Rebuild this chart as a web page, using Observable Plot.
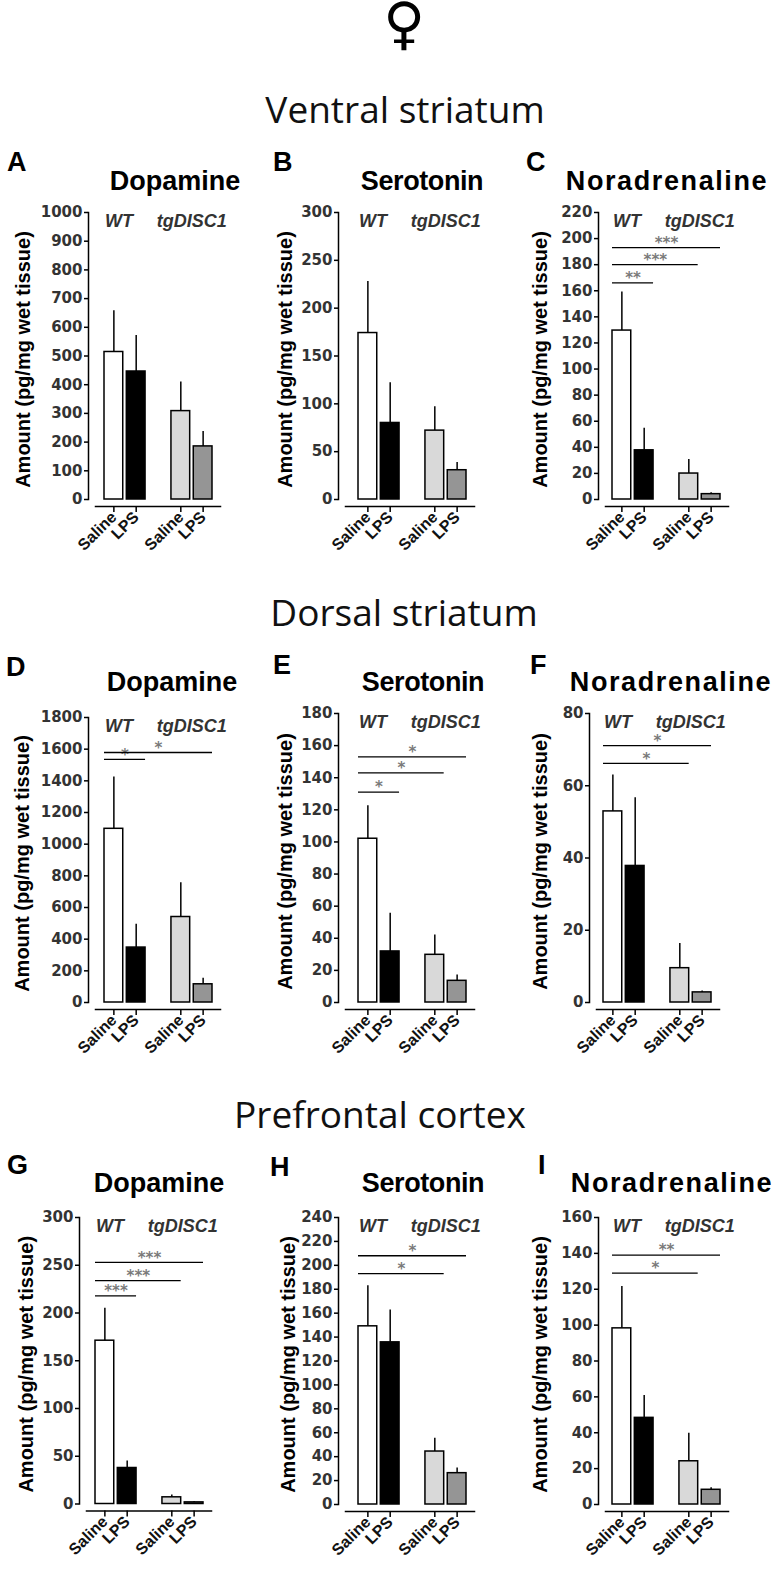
<!DOCTYPE html>
<html>
<head>
<meta charset="utf-8">
<script src="https://cdn.jsdelivr.net/npm/d3@7"></script>
<script src="https://cdn.jsdelivr.net/npm/@observablehq/plot@0.6"></script>
<style>
html, body { margin: 0; padding: 0; background: #fff; }
#page { position: relative; width: 772px; height: 1569px; overflow: hidden; background: #fff; }
.t { position: absolute; white-space: nowrap; margin: 0; }
.panel { position: absolute; }
</style>
</head>
<body>
<div id="page"></div>
<script>
// ---------------- DATA ----------------
const sexSymbol = "♀";
const regions = ["Ventral striatum", "Dorsal striatum", "Prefrontal cortex"];
const transmitters = ["Dopamine", "Serotonin", "Noradrenaline"];
const panelLetters = ["A", "B", "C", "D", "E", "F", "G", "H", "I"];
const genotypes = ["WT", "WT", "tgDISC1", "tgDISC1"];
const treatments = ["Saline", "LPS", "Saline", "LPS"];
const groupNames = ["WT", "tgDISC1"];
const yLabel = "Amount (pg/mg wet tissue)";

// bar order: WT Saline, WT LPS, tgDISC1 Saline, tgDISC1 LPS
const meanA = [514, 446, 308, 185];
const semA  = [144, 125, 101, 52];
const meanB = [174, 80, 72, 30.6];
const semB  = [54, 42, 25, 8];
const meanC = [129.5, 37.7, 19.9, 4.1];
const semC  = [29.5, 17, 10.7, 1];
const meanD = [1097, 347, 540, 115];
const semD  = [328, 147, 216, 38];
const meanE = [102, 31.8, 29.7, 13.5];
const semE  = [20.5, 23.8, 12.3, 3.7];
const meanF = [52.9, 37.8, 9.5, 2.8];
const semF  = [10.1, 18.9, 6.8, 0.4];
const meanG = [171, 37.7, 7, 1.7];
const semG  = [34, 7.3, 2.4, 0.7];
const meanH = [149, 135.6, 44.3, 26.2];
const semH  = [34, 27, 11.1, 4.4];
const meanI = [98.2, 48.3, 24.1, 8.2];
const semI  = [23.4, 12.4, 15.6, 1.1];

// y tick labels
const ticksA = [0, 100, 200, 300, 400, 500, 600, 700, 800, 900, 1000];
const ticksB = [0, 50, 100, 150, 200, 250, 300];
const ticksC = [0, 20, 40, 60, 80, 100, 120, 140, 160, 180, 200, 220];
const ticksD = [0, 200, 400, 600, 800, 1000, 1200, 1400, 1600, 1800];
const ticksE = [0, 20, 40, 60, 80, 100, 120, 140, 160, 180];
const ticksF = [0, 20, 40, 60, 80];
const ticksG = [0, 50, 100, 150, 200, 250, 300];
const ticksH = [0, 20, 40, 60, 80, 100, 120, 140, 160, 180, 200, 220, 240];
const ticksI = [0, 20, 40, 60, 80, 100, 120, 140, 160];

// significance brackets vs WT Saline: target bar index, height (data units), label
const sigA = [];
const sigB = [];
const sigC = [{to: 1, y: 166, label: "**"}, {to: 2, y: 180, label: "***"}, {to: 3, y: 193, label: "***"}];
const sigD = [{to: 1, y: 1535, label: "*"}, {to: 3, y: 1579, label: "*"}];
const sigE = [{to: 1, y: 131, label: "*"}, {to: 2, y: 143, label: "*"}, {to: 3, y: 153, label: "*"}];
const sigF = [{to: 2, y: 66.2, label: "*"}, {to: 3, y: 71.1, label: "*"}];
const sigG = [{to: 1, y: 218, label: "***"}, {to: 2, y: 234, label: "***"}, {to: 3, y: 253, label: "***"}];
const sigH = [{to: 2, y: 193, label: "*"}, {to: 3, y: 208, label: "*"}];
const sigI = [{to: 2, y: 129, label: "*"}, {to: 3, y: 139, label: "**"}];

const panels = [
  {mean: meanA, sem: semA, ticks: ticksA, sig: sigA},
  {mean: meanB, sem: semB, ticks: ticksB, sig: sigB},
  {mean: meanC, sem: semC, ticks: ticksC, sig: sigC},
  {mean: meanD, sem: semD, ticks: ticksD, sig: sigD},
  {mean: meanE, sem: semE, ticks: ticksE, sig: sigE},
  {mean: meanF, sem: semF, ticks: ticksF, sig: sigF},
  {mean: meanG, sem: semG, ticks: ticksG, sig: sigG},
  {mean: meanH, sem: semH, ticks: ticksH, sig: sigH},
  {mean: meanI, sem: semI, ticks: ticksI, sig: sigI}
];

// ---------------- STYLE / LAYOUT ----------------
const barFills = ["#ffffff", "#000000", "#d9d9d9", "#959595"];
const titleSpacing = [0, -0.4, 1.6];
const layout = [
  {left: 0,   axis: 88,  inset: 16, top: 212,  zero: 499,    labelOff: 73, titleX: 175, titleY: 191,  letterX: 7,   letterY: 172},
  {left: 250, axis: 338, inset: 20, top: 212,  zero: 499,    labelOff: 61, titleX: 422, titleY: 191,  letterX: 273, letterY: 172},
  {left: 510, axis: 598, inset: 14, top: 212,  zero: 499,    labelOff: 66, titleX: 667, titleY: 191,  letterX: 526, letterY: 172},
  {left: 0,   axis: 88,  inset: 16, top: 717,  zero: 1002,   labelOff: 74, titleX: 172, titleY: 692,  letterX: 6,   letterY: 677},
  {left: 250, axis: 338, inset: 20, top: 713,  zero: 1002,   labelOff: 61, titleX: 423, titleY: 692,  letterX: 273, letterY: 675},
  {left: 510, axis: 589, inset: 14, top: 713,  zero: 1002,   labelOff: 57, titleX: 671, titleY: 692,  letterX: 530, letterY: 675},
  {left: 0,   axis: 79,  inset: 16, top: 1217, zero: 1503.5, labelOff: 61, titleX: 159, titleY: 1193, letterX: 7,   letterY: 1175},
  {left: 250, axis: 338, inset: 20, top: 1217, zero: 1504,   labelOff: 58, titleX: 423, titleY: 1193, letterX: 270, letterY: 1177},
  {left: 510, axis: 598, inset: 14, top: 1217, zero: 1504,   labelOff: 66, titleX: 672, titleY: 1193, letterX: 538, letterY: 1175}
];
const headings = [
  {x: 405, y: 123},
  {x: 404, y: 626},
  {x: 380, y: 1128}
];
const groupDx = [5, 11];
const BAR_SPAN = 108, PAD_INNER = 0.16, AXIS_GAP = 7;

const page = document.getElementById("page");
// (ascent - descent) / 2 per font, used to place a baseline in a line box
const fontMid = {"Liberation Sans": 0.3465, "Open Sans": 0.388, "DejaVu Sans": 0.346};

function addText(str, {x, y, size, family = "Liberation Sans", weight = "normal", style = "normal", anchor = "start",
                       color = "#000", spacing = 0, lineHeight = 1}) {
  const d = document.createElement("div");
  d.className = "t";
  d.textContent = str;
  d.style.left = x + "px";
  d.style.lineHeight = lineHeight;
  d.style.top = (y - (lineHeight / 2 + fontMid[family]) * size) + "px";
  d.style.fontSize = size + "px";
  d.style.fontFamily = `"${family}"`;
  d.style.fontWeight = weight;
  d.style.fontStyle = style;
  d.style.color = color;
  if (spacing) d.style.letterSpacing = spacing + "px";
  if (anchor === "middle") d.style.transform = "translateX(-50%)";
  page.appendChild(d);
}

// header
addText(sexSymbol, {x: 404, y: 43, size: 57, family: "DejaVu Sans", anchor: "middle", lineHeight: 0.78});
regions.forEach((r, i) => addText(r, {x: headings[i].x, y: headings[i].y, size: 37, family: "Open Sans", anchor: "middle", color: "#111"}));

const keys = genotypes.map((g, i) => `${g} ${treatments[i]}`);
const xDomain = [keys[0], keys[1], "gap", keys[2], keys[3]];

panels.forEach((p, i) => {
  const L = layout[i];
  addText(transmitters[i % 3], {x: L.titleX, y: L.titleY, size: 27, weight: "bold", anchor: "middle", spacing: titleSpacing[i % 3]});
  addText(panelLetters[i], {x: L.letterX, y: L.letterY, size: 27, weight: "bold"});

  const rows = keys.map((k, j) => ({key: k, mean: p.mean[j], sem: p.sem[j]}));
  const yMax = p.ticks[p.ticks.length - 1];
  const groups = groupNames.map((g, j) => ({label: g, key: keys[genotypes.indexOf(g)], dx: groupDx[j]}));
  const step = BAR_SPAN / (xDomain.length - PAD_INNER);

  const marginTop = 16, marginBottom = 62, marginRight = 45;
  const marginLeft = L.axis - L.left;
  const frameW = L.inset + BAR_SPAN + 8;
  const height = marginTop + (L.zero + AXIS_GAP - L.top) + marginBottom;
  const width = marginLeft + frameW + marginRight;

  const sigMarks = p.sig.flatMap(s => {
    const d = [{x1: keys[0], x2: keys[s.to], y: s.y, label: s.label}];
    const mid = xDomain.indexOf(keys[s.to]) * step / 2;
    return [
      Plot.ruleY(d, {x1: "x1", x2: "x2", y: "y", stroke: "#000", strokeWidth: 1.3}),
      Plot.text(d, {x: "x1", y: "y", text: "label", dx: mid, dy: -4.5, lineAnchor: "middle", fontSize: 15, fontWeight: "bold",
        fontFamily: "DejaVu Sans", fill: "#7a7a7a", letterSpacing: 1.2})
    ];
  });

  const chart = Plot.plot({
    width, height, marginTop, marginBottom, marginLeft, marginRight,
    style: {background: "transparent", overflow: "visible"},
    x: {type: "band", domain: xDomain, paddingInner: PAD_INNER, paddingOuter: 0, insetLeft: L.inset, insetRight: 8, round: false},
    y: {domain: [0, yMax], insetBottom: AXIS_GAP},
    color: {type: "ordinal", domain: keys, range: barFills},
    marks: [
      Plot.barY(rows, {x: "key", y: "mean", fill: "key", stroke: "#000", strokeWidth: 1.5}),
      Plot.ruleX(rows, {x: "key", y1: "mean", y2: d => d.mean + d.sem, stroke: "#000", strokeWidth: 1.5}),
      Plot.frame({anchor: "left", insetBottom: AXIS_GAP, stroke: "#000", strokeWidth: 1.5}),
      Plot.frame({anchor: "bottom", insetLeft: AXIS_GAP, stroke: "#000", strokeWidth: 1.5}),
      Plot.axisY({ticks: p.ticks, tickFormat: d3.format("d"), tickSize: 4, tickPadding: 2, strokeWidth: 1.5,
        fontSize: 15, fontFamily: "DejaVu Sans", fontWeight: "bold", fill: "#333", label: null}),
      Plot.axisY({ticks: [], tickSize: 0, label: yLabel, labelAnchor: "center", labelOffset: L.labelOff, labelArrow: false,
        fontSize: 20, fontFamily: "Liberation Sans", fontWeight: "bold", fill: "#000"}),
      Plot.axisX({ticks: keys, tickFormat: k => treatments[keys.indexOf(k)], tickRotate: -45, tickSize: 6, tickPadding: 2,
        strokeWidth: 1.5, fontSize: 16, fontFamily: "Liberation Sans", fontWeight: "bold", fill: "#111", label: null}),
      ...groups.map(g => Plot.text([g], {x: "key", y: () => yMax, text: "label", dx: g.dx, dy: 9, lineAnchor: "middle",
        fontSize: 18, fontStyle: "italic", fontWeight: "bold", fontFamily: "Liberation Sans", fill: "#333"})),
      ...sigMarks
    ]
  });
  chart.classList.add("panel");
  chart.style.left = L.left + "px";
  chart.style.top = (L.top - marginTop) + "px";
  chart.style.position = "absolute";
  page.appendChild(chart);
});
</script>
</body>
</html>
